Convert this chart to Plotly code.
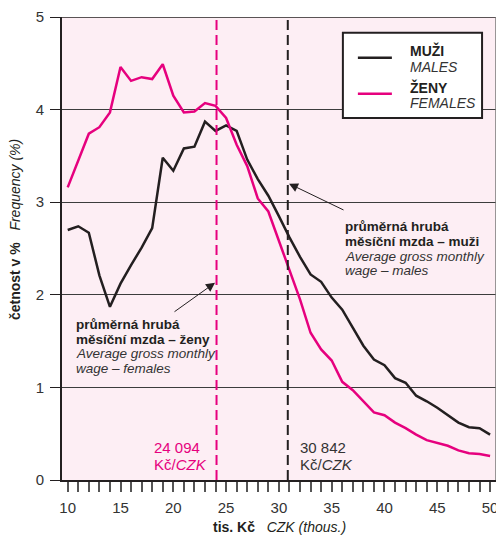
import plotly.graph_objects as go

# ---- data ----
wage_thousands = list(range(10, 51))
males = [2.70, 2.74, 2.67, 2.21, 1.87, 2.12, 2.32, 2.51, 2.72, 3.48,
         3.34, 3.58, 3.60, 3.87, 3.77, 3.83, 3.77, 3.46, 3.25, 3.07,
         2.85, 2.62, 2.41, 2.22, 2.14, 1.97, 1.84, 1.64, 1.45, 1.30,
         1.24, 1.10, 1.05, 0.91, 0.85, 0.78, 0.70, 0.62, 0.57, 0.56, 0.49]
females = [3.16, 3.44, 3.74, 3.81, 3.97, 4.46, 4.31, 4.35, 4.33, 4.49,
           4.15, 3.97, 3.98, 4.07, 4.04, 3.91, 3.62, 3.39, 3.04, 2.90,
           2.58, 2.25, 1.95, 1.59, 1.41, 1.29, 1.06, 0.97, 0.85, 0.73,
           0.70, 0.62, 0.56, 0.49, 0.43, 0.40, 0.37, 0.32, 0.29, 0.28, 0.26]
avg_female = 24.094
avg_male = 30.842
avg_female_label = "24 094"
avg_male_label = "30 842"
x_ticks = [10, 15, 20, 25, 30, 35, 40, 45, 50]
y_ticks = [0, 1, 2, 3, 4, 5]

BLACK = "#231f20"
PINK = "#e6007e"
GREY = "#333333"
FONT = "Liberation Sans"

fig = go.Figure()
fig.add_trace(go.Scatter(x=wage_thousands, y=males, mode="lines",
                         line=dict(color=BLACK, width=2.5), name="MUŽI"))
fig.add_trace(go.Scatter(x=wage_thousands, y=females, mode="lines",
                         line=dict(color=PINK, width=2.5), name="ŽENY"))

shapes = []
# average wage dashed lines
shapes.append(dict(type="line", xref="x", yref="y", x0=avg_female, x1=avg_female, y0=0, y1=5,
                   line=dict(color=PINK, width=2, dash="10px,5px")))
shapes.append(dict(type="line", xref="x", yref="y", x0=avg_male, x1=avg_male, y0=0, y1=5,
                   line=dict(color=BLACK, width=2, dash="10px,5px")))
# top and right frame
shapes.append(dict(type="line", xref="paper", yref="y", x0=0, x1=1, y0=5, y1=5,
                   line=dict(color=BLACK, width=1.5)))
shapes.append(dict(type="line", xref="paper", yref="paper", x0=1, x1=1, y0=0, y1=1,
                   line=dict(color="#777777", width=1.5)))
# legend box
shapes.append(dict(type="rect", xref="x", yref="y", x0=36.06, x1=49.24, y0=3.91, y1=4.83,
                   fillcolor="white", line=dict(color=BLACK, width=2)))
shapes.append(dict(type="line", xref="x", yref="y", x0=37.48, x1=40.7, y0=4.56, y1=4.56,
                   line=dict(color=BLACK, width=2.5)))
shapes.append(dict(type="line", xref="x", yref="y", x0=37.48, x1=40.7, y0=4.17, y1=4.17,
                   line=dict(color=PINK, width=2.5)))

ann = []
def txt(x, y, s, color=BLACK, size=14, xanchor="left", xref="x", yref="y", angle=0):
    ann.append(dict(x=x, y=y, xref=xref, yref=yref, text=s, showarrow=False,
                    xanchor=xanchor, yanchor="middle", textangle=angle,
                    font=dict(family=FONT, size=size, color=color)))

# legend text
txt(42.22, 4.635, "<b>MUŽI</b>")
txt(42.22, 4.46, "<i>MALES</i>", color=GREY)
txt(42.22, 4.235, "<b>ŽENY</b>")
txt(42.22, 4.07, "<i>FEMALES</i>", color=GREY)

# male annotation
mx = 36.06
txt(mx, 2.735, "<b>průměrná hrubá</b>", size=13.5)
txt(mx, 2.575, "<b>měsíční mzda – muži</b>", size=13.5)
txt(mx, 2.413, "<i>Average gross monthly</i>", color=GREY, size=13.5)
txt(mx, 2.265, "<i>wage – males</i>", color=GREY, size=13.5)
# female annotation
fx = 10.6
txt(fx, 1.677, "<b>průměrná hrubá</b>", size=13.5)
txt(fx, 1.515, "<b>měsíční mzda – ženy</b>", size=13.5)
txt(fx, 1.361, "<i>Average gross monthly</i>", color=GREY, size=13.5)
txt(fx, 1.207, "<i>wage – females</i>", color=GREY, size=13.5)

# average value labels
txt(18.0, 0.348, avg_female_label, color=PINK, size=15)
txt(18.0, 0.165, "Kč/<i>CZK</i>", color=PINK, size=15)
txt(31.84, 0.348, avg_male_label, color=GREY, size=15)
txt(31.84, 0.165, "Kč/<i>CZK</i>", color=GREY, size=15)

# arrows
ann.append(dict(x=30.96, y=3.20, xref="x", yref="y", ax=56, ay=27, text="", showarrow=True,
                arrowhead=2, arrowsize=1.8, arrowwidth=1, arrowcolor=BLACK, standoff=0))
ann.append(dict(x=23.95, y=2.13, xref="x", yref="y", ax=-42, ay=30, text="", showarrow=True,
                arrowhead=2, arrowsize=1.8, arrowwidth=1, arrowcolor=BLACK, standoff=0))

# axis titles
txt(0.5, -0.102, "<b>tis. Kč</b>   <i>CZK (thous.)</i>", xanchor="center", xref="paper", yref="paper", size=14)
txt(-0.108, 0.54, "<b>četnost v %</b>   <i>Frequency (%)</i>", xanchor="center", xref="paper", yref="paper",
    size=14, angle=-90)

# page body has an 8px margin: figure occupies page pixels 8..504 x 8..539
fig.update_layout(
    width=496, height=531,
    margin=dict(l=54, r=8, t=9, b=58.5, autoexpand=False),
    paper_bgcolor="white", plot_bgcolor="#fdeef4",
    showlegend=False,
    shapes=shapes, annotations=ann,
    font=dict(family=FONT, color=GREY),
    xaxis=dict(range=[9.46, 50.56], tickvals=x_ticks, ticks="outside", ticklen=10,
               tickcolor="#555555", tickwidth=1.5, ticklabelstandoff=3,
               minor=dict(dtick=1, tick0=10, ticks="outside", ticklen=10, tickcolor="#555555", tickwidth=1.5),
               showgrid=False, zeroline=False, showline=True, linecolor=BLACK, linewidth=2,
               tickfont=dict(family=FONT, size=15, color=GREY), automargin=False),
    yaxis=dict(range=[0, 5], tickvals=y_ticks, ticks="outside", ticklen=10,
               tickcolor=BLACK, tickwidth=1.2, ticklabelstandoff=3,
               showgrid=True, gridcolor="#3c3c3c", gridwidth=1, zeroline=False,
               showline=True, linecolor=BLACK, linewidth=2,
               tickfont=dict(family=FONT, size=15, color=GREY), automargin=False),
)

fig.write_html("out.html")
